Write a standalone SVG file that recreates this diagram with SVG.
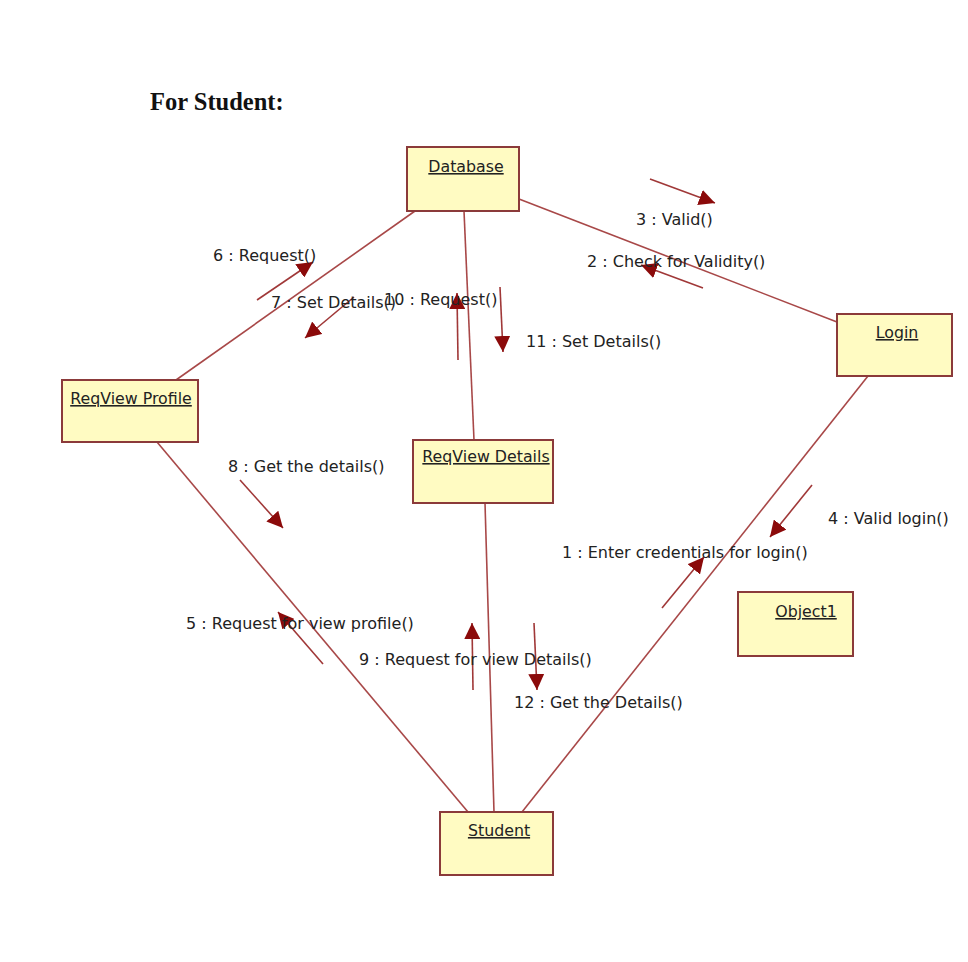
<svg xmlns="http://www.w3.org/2000/svg" width="968" height="962" viewBox="0 0 968 962">
<style>
.box{fill:#FFFBC2;stroke:#8B3A3A;stroke-width:2}
.name{font-family:"DejaVu Sans",sans-serif;font-size:15.8px;fill:#222;text-decoration:underline;text-anchor:middle}
.lbl{font-family:"DejaVu Sans",sans-serif;font-size:16px;fill:#222}
.link{stroke:#A84848;stroke-width:1.6;fill:none}
.msg{stroke:#A03838;stroke-width:1.6;fill:none;marker-end:url(#ah)}
.title{font-family:"Liberation Serif",serif;font-weight:bold;font-size:24.5px;fill:#111}
</style>
<defs>
<marker id="ah" viewBox="0 0 10 10" refX="10" refY="5" markerWidth="16" markerHeight="16" markerUnits="userSpaceOnUse" orient="auto">
<path d="M0,0 L10,5 L0,10 z" fill="#8B0A0A"/>
</marker>
</defs>
<rect width="968" height="962" fill="#fff"/>
<text class="title" x="150" y="110">For Student:</text>
<g id="connectors">
<line class="link" x1="519" y1="199" x2="837" y2="322"/>
<line class="link" x1="415" y1="211" x2="176" y2="380"/>
<line class="link" x1="464" y1="211" x2="474" y2="440"/>
<line class="link" x1="485" y1="503" x2="494" y2="812"/>
<line class="link" x1="157" y1="442" x2="468" y2="812"/>
<line class="link" x1="868" y1="376" x2="522" y2="812"/>
<line class="msg" x1="650" y1="179" x2="715" y2="203"/>
<line class="msg" x1="703" y1="288" x2="641" y2="265"/>
<line class="msg" x1="257" y1="300" x2="313" y2="262"/>
<line class="msg" x1="354" y1="297" x2="305" y2="338"/>
<line class="msg" x1="458" y1="360" x2="457" y2="293"/>
<line class="msg" x1="500" y1="287" x2="503" y2="352"/>
<line class="msg" x1="240" y1="480" x2="283" y2="528"/>
<line class="msg" x1="323" y1="664" x2="278" y2="612"/>
<line class="msg" x1="473" y1="690" x2="472" y2="623"/>
<line class="msg" x1="534" y1="623" x2="537" y2="690"/>
<line class="msg" x1="662" y1="608" x2="704" y2="557"/>
<line class="msg" x1="812" y1="485" x2="770" y2="537"/>
<text class="lbl" x="636" y="225">3 : Valid()</text>
<text class="lbl" x="587" y="267">2 : Check for Validity()</text>
<text class="lbl" x="213" y="261">6 : Request()</text>
<text class="lbl" x="271" y="308">7 : Set Details()</text>
<text class="lbl" x="384" y="305">10 : Request()</text>
<text class="lbl" x="526" y="347">11 : Set Details()</text>
<text class="lbl" x="228" y="472">8 : Get the details()</text>
<text class="lbl" x="186" y="629">5 : Request for view profile()</text>
<text class="lbl" x="359" y="665">9 : Request for view Details()</text>
<text class="lbl" x="514" y="708">12 : Get the Details()</text>
<text class="lbl" x="562" y="558">1 : Enter credentials for login()</text>
<text class="lbl" x="828" y="524">4 : Valid login()</text>
</g>
<g id="database"><rect class="box" x="407" y="147" width="112" height="64"/><text class="name" x="466" y="172">Database</text></g>
<g id="login"><rect class="box" x="837" y="314" width="115" height="62"/><text class="name" x="897" y="338">Login</text></g>
<g id="reqview-profile"><rect class="box" x="62" y="380" width="136" height="62"/><text class="name" x="131" y="404">ReqView Profile</text></g>
<g id="reqview-details"><rect class="box" x="413" y="440" width="140" height="63"/><text class="name" x="486" y="462">ReqView Details</text></g>
<g id="student"><rect class="box" x="440" y="812" width="113" height="63"/><text class="name" x="499" y="836">Student</text></g>
<g id="object1"><rect class="box" x="738" y="592" width="115" height="64"/><text class="name" x="806" y="617">Object1</text></g>
</svg>
